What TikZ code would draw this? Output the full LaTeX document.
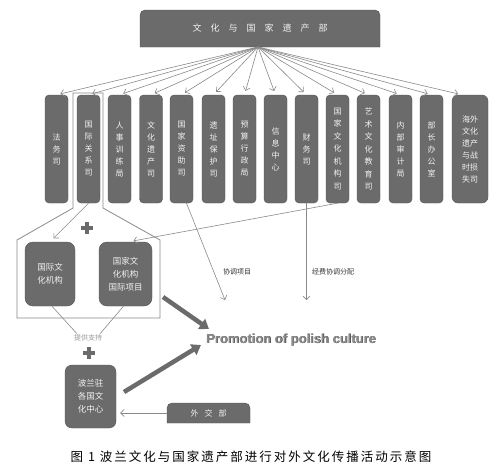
\documentclass[tikz,border=0pt]{standalone}
\usepackage{fontspec}
\setmainfont{Noto Sans CJK SC}
\newfontfamily\latinfont{Liberation Sans}
\usetikzlibrary{arrows.meta,calc}
\definecolor{boxgray}{HTML}{6B6B6B}
\definecolor{edgegray}{HTML}{555555}
\definecolor{linegray}{HTML}{8A8A8A}
\definecolor{boxtext}{HTML}{F2F2F2}
\newcommand\gp{\hspace{9pt}}
\newcommand\gq{\hspace{6pt}}
\begin{document}
\begin{tikzpicture}[x=1pt,y=-1pt,
  col/.style={draw=edgegray,fill=boxgray,rounded corners=4pt,minimum width=23pt,minimum height=108pt,inner sep=0pt,text=boxtext,align=center,font=\fontsize{8}{12}\selectfont},
  innerbox/.style={draw=edgegray,fill=boxgray,rounded corners=8pt,inner sep=0pt,text=boxtext,align=center,font=\fontsize{8.5}{13}\selectfont},
  fan/.style={draw=linegray,line width=0.6pt,-{Straight Barb[length=3.5pt,width=7pt]}},
  thinarrow/.style={draw=linegray,line width=0.6pt,-{Straight Barb[length=3.5pt,width=7pt]}},
  thick/.style={draw=boxgray,line width=4.5pt,-{Triangle[length=9pt,width=12pt]}},
  outline/.style={draw=linegray,line width=0.8pt},
  lbl/.style={font=\fontsize{7}{8}\selectfont,text=black!80,inner sep=1pt},
]
\useasboundingbox (0,0) rectangle (500,469);
\fill[white] (0,0) rectangle (500,469);

% top box
\draw[draw=edgegray,fill=boxgray] (140,47) -- (140,15) arc[start angle=180,end angle=270,radius=5] -- (375,10) arc[start angle=270,end angle=360,radius=5] -- (380,47) -- cycle;
\node[text=boxtext,font=\fontsize{9}{10}\selectfont,minimum width=240pt,minimum height=37pt,inner sep=0pt] (top) at (260,28.5) {文\gp 化\gp 与\gp 国\gp 家\gp 遗\gp 产\gp 部};
\coordinate (org) at (258,47);

% columns
\node[col] (c1) at (56.5,149) {法\\务\\司};
\node[col] (c2) at (88.5,149) {国\\际\\关\\系\\司};
\node[col] (c3) at (119.5,149) {人\\事\\训\\练\\局};
\node[col] (c4) at (151,149) {文\\化\\遗\\产\\司};
\node[col] (c5) at (181.5,149) {国\\家\\资\\助\\司};
\node[col] (c6) at (213.5,149) {遗\\址\\保\\护\\司};
\node[col] (c7) at (244.5,149) {预\\算\\行\\政\\局};
\node[col] (c8) at (275.5,149) {信\\息\\中\\心};
\node[col] (c9) at (306.5,149) {财\\务\\司};
\node[col,font=\fontsize{8}{12.5}\selectfont] (c10) at (337.5,149) {国\\家\\文\\化\\机\\构\\司};
\node[col,font=\fontsize{8}{12.5}\selectfont] (c11) at (368.5,149) {艺\\术\\文\\化\\教\\育\\司};
\node[col] (c12) at (400.5,149) {内\\部\\审\\计\\局};
\node[col] (c13) at (431.5,149) {部\\长\\办\\公\\室};
\node[col,minimum width=36pt,rounded corners=6pt] (c14) at (470,149) {海外\\文化\\遗产\\与战\\时损\\失司};

% fan arrows
\foreach \i in {1,...,13} {
  \draw[fan,shorten >=4pt] (org) -- (c\i.north);
}
\draw[fan,shorten >=4pt] (org) -- ($(c14.north)+(-8,0)$);

% outline around 国际关系司 and the inner group
\draw[outline] (73,208) -- (73,93) -- (103,93) -- (103,208) -- (160,240) -- (160,318) -- (17,318) -- (17,240) -- cycle;

% plus signs
\fill[boxgray] (81,226) rectangle (93,230);
\fill[boxgray] (85,222) rectangle (89,234);
\fill[boxgray] (83,351) rectangle (95,355);
\fill[boxgray] (87,347) rectangle (91,359);

% inner boxes
\node[innerbox,minimum width=50pt,minimum height=64pt] (ia) at (50,274) {国际文\\化机构};
\node[innerbox,minimum width=53pt,minimum height=64pt] (ib) at (125.5,274) {国家文\\化机构\\国际项目};

\draw[thinarrow,shorten >=5pt] (c2.south) -- (ia.north);
\draw[thinarrow,shorten >=5pt] (c10.south) -- ($(ib.north)+(3,0)$);

% arrows to promotion
\coordinate (p1) at (225,300);
\coordinate (p2) at (306.5,300);
\draw[thinarrow] ($(c5.south)+(5,0)$) -- (p1);
\draw[thinarrow] (c9.south) -- (p2);
\node[lbl,anchor=west] (l1) at (222,272) {协调项目};
\node[lbl,anchor=west] (l2) at (311,272) {经费协调分配};

% promotion text
\node[font=\latinfont\bfseries\fontsize{13}{14}\selectfont,text=black!75,inner sep=0pt] (promsh) at (291.6,340.6) {Promotion of polish culture};
\node[font=\latinfont\bfseries\fontsize{13}{14}\selectfont,text=black!45,inner sep=0pt] (prom) at (291,340) {Promotion of polish culture};

% support
\node[lbl,text=black!40] (sup) at (88,338) {提供支持};
\draw[draw=linegray,line width=0.6pt] ($(ia.south)+(2,0)$) -- ($(sup.north west)+(4,0)$);
\draw[draw=linegray,line width=0.6pt] ($(ib.south)+(-2,0)$) -- ($(sup.north east)+(-3,0)$);

% Polish centres
\node[innerbox,rounded corners=7pt,minimum width=51pt,minimum height=63pt] (pl) at (90.5,396.5) {波兰驻\\各国文\\化中心};

% 外交部
\draw[draw=edgegray,fill=boxgray] (167,423) -- (167,408) arc[start angle=180,end angle=270,radius=5] -- (245,403) arc[start angle=270,end angle=360,radius=5] -- (250,423) -- cycle;
\node[text=boxtext,font=\fontsize{8}{9}\selectfont,minimum width=83pt,minimum height=20pt,inner sep=0pt] (wj) at (208.5,413) {外\gq 交\gq 部};
\draw[thinarrow] (wj.west) -- ($(pl.east |- wj.west)+(4,0)$);

% thick arrows
\coordinate (t1) at (163,297);
\coordinate (t2) at (124,392);
\draw[thick] (t1) -- ($(prom.west)+(3,-11)$);
\draw[thick] (t2) -- ($(prom.west)+(-5,5)$);

% caption
\node[font=\fontsize{12.5}{14}\selectfont\addfontfeatures{LetterSpace=16},inner sep=0pt] (cap) at (251,457) {图 1 波兰文化与国家遗产部进行对外文化传播活动示意图};
\end{tikzpicture}
\end{document}
